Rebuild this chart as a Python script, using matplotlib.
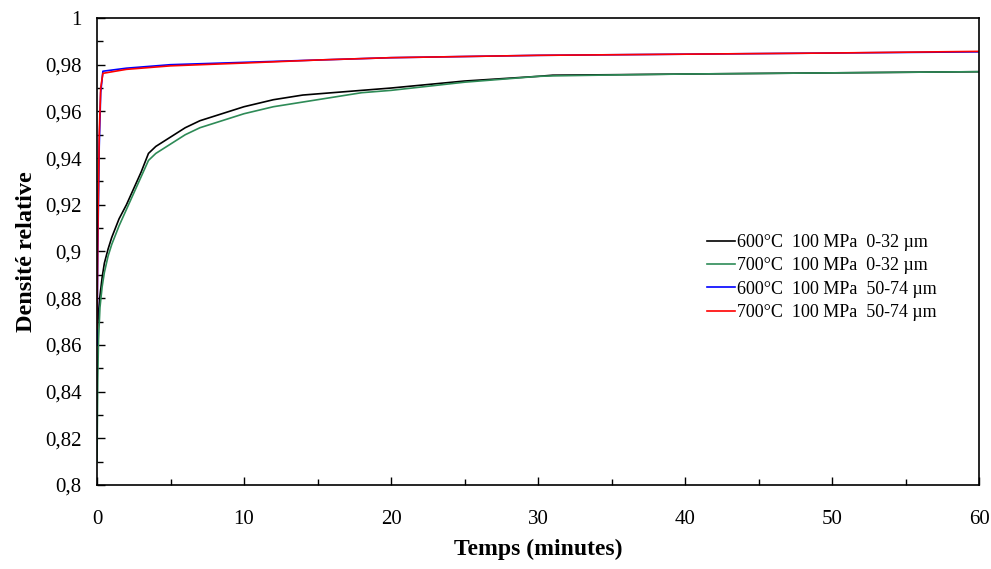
import numpy as np
import matplotlib
matplotlib.use("Agg")
import matplotlib.pyplot as plt
from matplotlib.ticker import MultipleLocator, FuncFormatter

plt.rcParams['font.family'] = ['Liberation Serif', 'DejaVu Serif']

# time in minutes, relative density
t_fine = [0, 0.05, 0.1, 0.2, 0.35, 0.5, 0.75, 1, 1.5, 2, 2.5, 3, 3.5, 4, 5, 6, 7, 8, 10,
          12, 14, 16, 18, 20, 25, 30, 31, 35, 40, 50, 60]
d_600_fine = [0.86, 0.868, 0.874, 0.881, 0.889, 0.895, 0.901, 0.906, 0.914, 0.920, 0.927,
              0.934, 0.942, 0.945, 0.949, 0.953, 0.956, 0.958, 0.962, 0.965, 0.967,
              0.968, 0.969, 0.970, 0.973, 0.975, 0.9755, 0.9757, 0.976, 0.9765, 0.977]
d_700_fine = [0.81, 0.845, 0.862, 0.876, 0.885, 0.891, 0.898, 0.903, 0.911, 0.918, 0.925,
              0.932, 0.939, 0.942, 0.946, 0.950, 0.953, 0.955, 0.959, 0.962, 0.964,
              0.966, 0.968, 0.969, 0.9725, 0.975, 0.9752, 0.9756, 0.976, 0.9765, 0.977]

t_coarse = [0, 0.05, 0.15, 0.25, 0.4, 2, 5, 10, 15, 20, 30, 40, 50, 60]
d_600_coarse = [0.86, 0.90, 0.945, 0.968, 0.9772, 0.9785, 0.980, 0.981, 0.982, 0.983,
                0.984, 0.9845, 0.985, 0.9855]
d_700_coarse = [0.867, 0.905, 0.95, 0.970, 0.9763, 0.978, 0.9795, 0.9807, 0.982, 0.983,
                0.984, 0.9845, 0.985, 0.9857]

labels = ['600°C  100 MPa  0-32 µm', '700°C  100 MPa  0-32 µm',
          '600°C  100 MPa  50-74 µm', '700°C  100 MPa  50-74 µm']

fig = plt.figure(figsize=(9.91, 5.69), dpi=100)
ax = fig.add_axes([0.0979, 0.1476, 0.89, 0.8208])

ax.plot(t_fine, d_600_fine, color='black', lw=1.2, label=labels[0])
ax.plot(t_fine, d_700_fine, color='#2e8b57', lw=1.2, label=labels[1])
ax.plot(t_coarse, d_600_coarse, color='#0000ff', lw=1.2, label=labels[2])
ax.plot(t_coarse, d_700_coarse, color='#ff0000', lw=1.2, label=labels[3])

ax.set_xlim(0, 60)
ax.set_ylim(0.8, 1.0)
ax.xaxis.set_major_locator(MultipleLocator(10))
ax.xaxis.set_minor_locator(MultipleLocator(5))
ax.yaxis.set_major_locator(MultipleLocator(0.02))
ax.yaxis.set_minor_locator(MultipleLocator(0.01))
ax.yaxis.set_major_formatter(FuncFormatter(lambda v, p: f"{round(v, 2):g}".replace('.', ',')))
ax.tick_params(which='both', direction='in', labelsize=15, width=1)
ax.tick_params(which='major', length=6)
ax.tick_params(which='minor', length=4)
ax.tick_params(axis='y', pad=11)
ax.tick_params(axis='x', pad=18)
for s in ax.spines.values():
    s.set_linewidth(1.2)

ax.set_xlabel('Temps (minutes)', fontsize=17, fontweight='bold', labelpad=7)
ax.set_ylabel('Densité relative', fontsize=17.5, fontweight='bold', labelpad=6)

ax.legend(loc='upper left', bbox_to_anchor=(0.6815, 0.557), frameon=False, fontsize=13,
          borderpad=0, handlelength=1.55, handletextpad=0.12, labelspacing=0.35)

fig.savefig('out.png', dpi=100)
